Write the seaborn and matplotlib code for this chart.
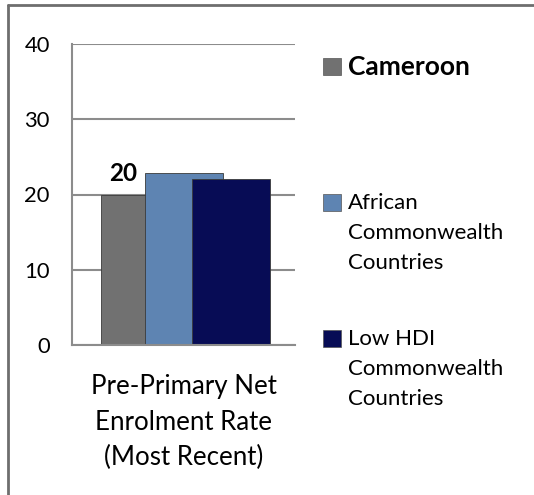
import matplotlib
matplotlib.use("Agg")
import matplotlib.pyplot as plt
from matplotlib.patches import Rectangle
from matplotlib.lines import Line2D
import seaborn as sns
import pandas as pd

# ---- data ----
category = ["Pre-Primary Net\nEnrolment Rate\n(Most Recent)"]
series = ["Cameroon", "African\nCommonwealth\nCountries", "Low HDI\nCommonwealth\nCountries"]
values = [20.0, 22.8, 22.0]
colors = ["#717171", "#5e84b2", "#070c55"]
yticks = [0, 10, 20, 30, 40]

sns.set_theme(style="white")
plt.rcParams["font.family"] = ["Lato", "DejaVu Sans"]

df = pd.DataFrame({"cat": category * len(series), "series": series, "value": values})

fig = plt.figure(figsize=(5.34, 4.95), dpi=100)
ax = fig.add_axes([72 / 534, 1 - 345 / 495, 223 / 534, 301 / 495])

sns.barplot(data=df, x="cat", y="value", hue="series", hue_order=series,
            palette=colors, dodge=True, ax=ax, legend=False, saturation=1,
            width=0.8)

# overlap the bars like the 3D clustered chart
offsets = [-0.195, 0.002, 0.213]
bw = 0.35
bars = [p for p in ax.patches if isinstance(p, Rectangle)]
for p, off, c in zip(bars, offsets, colors):
    p.set_x(off - bw / 2)
    p.set_width(bw)
    p.set_edgecolor("#3a3a3a")
    p.set_linewidth(0.6)

ax.set_xlim(-0.5, 0.5)
ax.set_ylim(0, 40)
ax.set_yticks(yticks)
ax.yaxis.grid(True, color="#8c8c8c", linewidth=1.5)
ax.set_axisbelow(True)
for s in ["top", "right"]:
    ax.spines[s].set_visible(False)
for s in ["left", "bottom"]:
    ax.spines[s].set_color("#8c8c8c")
    ax.spines[s].set_linewidth(1.5)
ax.tick_params(axis="y", length=0, pad=16, labelsize=15.8, labelcolor="black")
ax.tick_params(axis="x", length=0, pad=21, labelsize=18.6, labelcolor="black")
for t in ax.get_xticklabels():
    t.set_linespacing(1.52)
ax.set_xlabel("")
ax.set_ylabel("")

# value label on Cameroon bar (visible part)
b0, b1 = bars[0], bars[1]
lx = (b0.get_x() + b1.get_x()) / 2
ax.text(lx, values[0] + 1.2, f"{values[0]:.0f}", ha="center", va="bottom",
        fontsize=17.5, fontweight="bold", color="black")

# legend drawn manually (handle aligned with first text line)
leg_y = [66, 202, 338]
for lab, c, y in zip(series, colors, leg_y):
    fig.add_artist(Rectangle((323 / 534, 1 - (y + 9) / 495), 18 / 534, 17 / 495,
                             transform=fig.transFigure, facecolor=c,
                             edgecolor="#555555", linewidth=0.5))
    bold = lab == "Cameroon"
    fig.text(348 / 534, 1 - (y - (11 if bold else 9)) / 495, lab, ha="left", va="top",
             fontsize=19 if bold else 16, fontweight="bold" if bold else "normal",
             linespacing=1.62, color="black")

# outer frame (top and left edges visible)
fig.add_artist(Line2D([8 / 534, 1.0], [1 - 5 / 495, 1 - 5 / 495],
                      transform=fig.transFigure, color="#6e6e6e", linewidth=2))
fig.add_artist(Line2D([8 / 534, 8 / 534], [0, 1 - 5 / 495],
                      transform=fig.transFigure, color="#6e6e6e", linewidth=2))

fig.savefig("out.png", dpi=100)
